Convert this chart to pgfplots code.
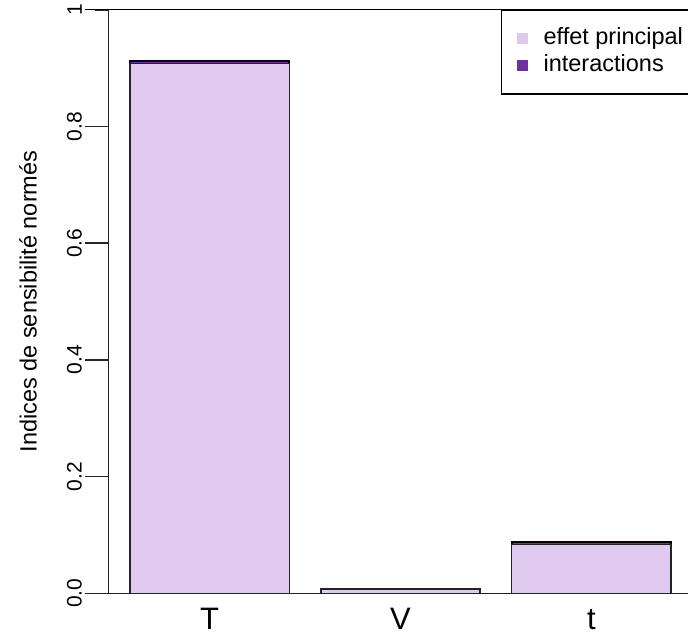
\documentclass[border=0pt]{standalone}
\usepackage{fontspec}
\setmainfont{Liberation Sans}
\usepackage{pgfplots}
\pgfplotsset{compat=1.18}
\definecolor{mainc}{RGB}{223,201,238}
\definecolor{interc}{RGB}{112,48,160}
\definecolor{axc}{RGB}{35,35,35}
\pgfplotstableread{
x main inter
0.7 0.908 0.004
1.9 0.0074 0.0
3.1 0.0836 0.0045
}\datatab
\begin{document}
\begin{tikzpicture}
\begin{axis}[
  at={(108.5pt,47.7pt)}, anchor=south west,
  scale only axis, width=584pt, height=583.5pt,
  xmin=0.064, xmax=3.736, ymin=0, ymax=1,
  clip=false,
  axis line style={draw=none},
  ytick pos=left, xtick pos=bottom,
  ytick={0,0.2,0.4,0.6,0.8,1},
  yticklabels={0.0,0.2,0.4,0.6,0.8,1},
  tick align=outside, major tick length=13.5pt,
  major y tick style={line width=1.5pt, draw=black!85},
  yticklabel style={font=\fontsize{21}{21}\selectfont, xshift=-13pt, rotate=90, anchor=south, inner sep=0pt},
  xtick={0.7,1.9,3.1}, xticklabels={T,V,t},
  major x tick style={draw=none},
  xticklabel style={font=\fontsize{31}{31}\selectfont, anchor=north, inner sep=0pt, text height=22.2pt, text depth=0pt},
  ylabel={Indices de sensibilité normés},
  every axis y label/.style={font=\fontsize{23.5}{23.5}\selectfont, at={(rel axis cs:0,0.5)}, xshift=-71.5pt, rotate=90, anchor=south, inner sep=0pt},
  ybar stacked, bar width=1,
  legend style={at={(rel axis cs:0.672,1)}, anchor=north west, draw=black, line width=1.3pt, fill=white,
    font=\fontsize{23.5}{23.5}\selectfont, inner xsep=15pt, inner ysep=17pt,
    nodes={inner sep=0pt, text height=17pt, text depth=5pt}, column sep=16pt, row sep=5.5pt},
  legend cell align=left,
  legend image code/.code={\fill[#1, draw=none] (0pt,-5.5pt) rectangle (11pt,5.5pt);},
]
\addplot[fill=mainc, draw=axc, line width=1.3pt] table[x=x, y=main] {\datatab};
\addplot[fill=interc, draw=black, line width=1.6pt] table[x=x, y=inter] {\datatab};
\legend{effet principal, interactions}
\draw[line width=1.6pt, draw=black!85] (rel axis cs:0,0) -- (rel axis cs:0,1);
\pgfplotsinvokeforeach{0.2,0.4,0.6,0.8}{
  \draw[line width=1.5pt, draw=black!85] (axis cs:0.064,#1) -- ++(-13.5pt,0);
}
\draw[line width=1.3pt, draw=axc] (axis cs:0.064,0) ++(-13.5pt,0) -- (axis cs:3.736,0);
\draw[line width=1.3pt, draw=black] (axis cs:0.064,1) ++(-13.5pt,0) -- (axis cs:3.736,1);
\end{axis}
\pgfresetboundingbox
\useasboundingbox (0,0) rectangle (688pt,641pt);
\end{tikzpicture}
\end{document}
